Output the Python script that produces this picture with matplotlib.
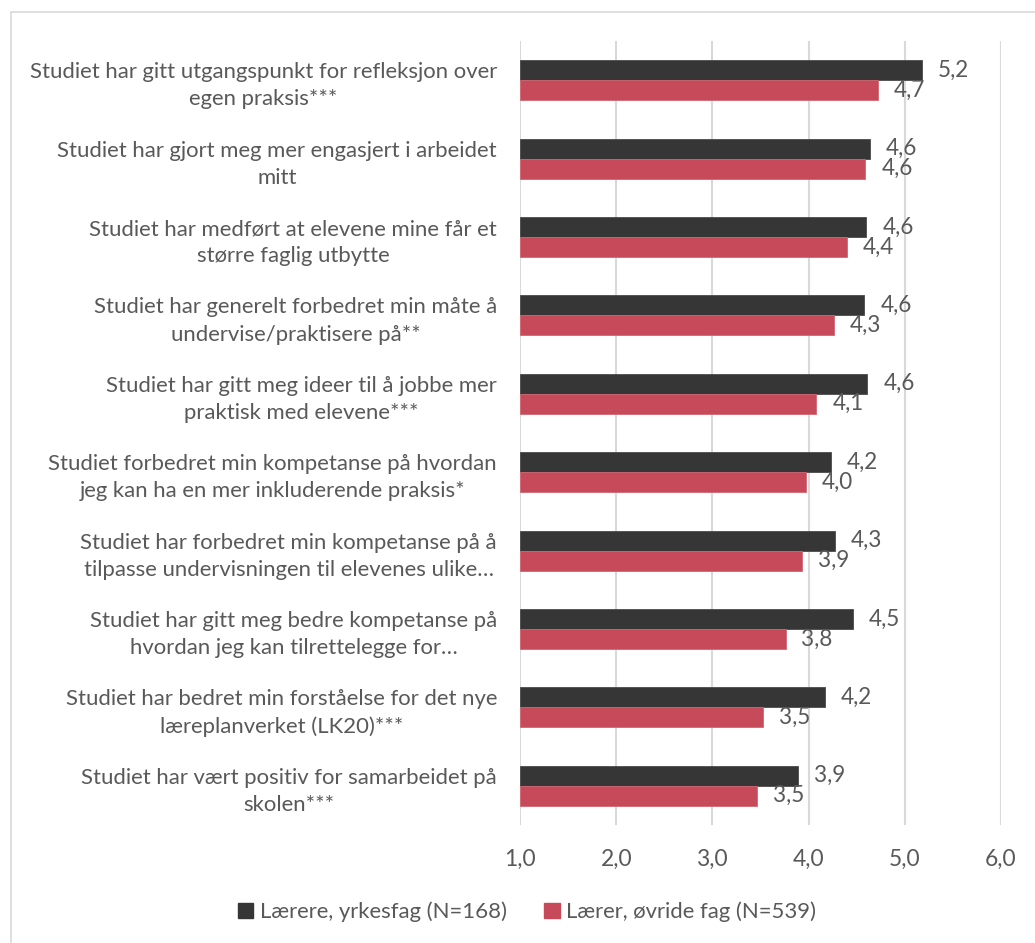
import matplotlib
matplotlib.use("Agg")
import matplotlib.pyplot as plt
from matplotlib.patches import Rectangle
import numpy as np

categories = [
    "Studiet har gitt utgangspunkt for refleksjon over\negen praksis***",
    "Studiet har gjort meg mer engasjert i arbeidet\nmitt",
    "Studiet har medført at elevene mine får et\nstørre faglig utbytte",
    "Studiet har generelt forbedret min måte å\nundervise/praktisere på**",
    "Studiet har gitt meg ideer til å jobbe mer\npraktisk med elevene***",
    "Studiet forbedret min kompetanse på hvordan\njeg kan ha en mer inkluderende praksis*",
    "Studiet har forbedret min kompetanse på å\ntilpasse undervisningen til elevenes ulike…",
    "Studiet har gitt meg bedre kompetanse på\nhvordan jeg kan tilrettelegge for…",
    "Studiet har bedret min forståelse for det nye\nlæreplanverket (LK20)***",
    "Studiet har vært positiv for samarbeidet på\nskolen***",
]
yrkesfag = [5.18, 4.64, 4.60, 4.58, 4.61, 4.23, 4.27, 4.46, 4.17, 3.89]
ovrige = [4.72, 4.59, 4.40, 4.26, 4.08, 3.97, 3.93, 3.76, 3.53, 3.46]
series_names = ["Lærere, yrkesfag (N=168)", "Lærer, øvride fag (N=539)"]
xticks = [1, 2, 3, 4, 5, 6]
xticklabels = ["1,0", "2,0", "3,0", "4,0", "5,0", "6,0"]

DARK = "#363636"
RED = "#C64A59"
TXT = "#595959"
GRID = "#D9D9D9"

W, H, DPI = 1035, 943, 100
plt.rcParams["font.family"] = ["Lato", "DejaVu Sans"]

fig = plt.figure(figsize=(W / DPI, H / DPI), dpi=DPI)

# auto-fit font size so first label line matches reference width (~469 px)
fs = 15.0
t = fig.text(0, 0, categories[0].split("\n")[0], fontsize=fs)
fig.canvas.draw()
wpx = t.get_window_extent().width
fs = fs * 469.0 / wpx
t.remove()

ax = fig.add_axes([520 / W, 1 - 825 / H, (1001 - 520) / W, (825 - 41) / H])

n = len(categories)
y = np.arange(n)
h = 0.255
xmin, xmax = xticks[0], xticks[-1]

ax.barh(y - h / 2, np.array(yrkesfag) - xmin, left=xmin, height=h, color=DARK,
        edgecolor="#4a4a4a", linewidth=0.6, label=series_names[0], zorder=3)
ax.barh(y + h / 2, np.array(ovrige) - xmin, left=xmin, height=h, color=RED,
        edgecolor="#cf6672", linewidth=0.6, label=series_names[1], zorder=3)

for i in range(n):
    for v, yc in ((yrkesfag[i], y[i] - h / 2), (ovrige[i], y[i] + h / 2)):
        ax.annotate(f"{v:.1f}".replace(".", ","), xy=(v, yc), xytext=(11.5, 0),
                    textcoords="offset points", ha="left", va="center",
                    fontsize=fs * 1.02, color=TXT)

ax.set_xlim(xmin, 6.0)
ax.set_ylim(n - 0.5, -0.5)
ax.set_xticks(xticks)
ax.set_xticklabels(xticklabels)
ax.set_yticks(y)
ax.set_yticklabels(categories)
for lab in ax.get_yticklabels():
    lab.set_multialignment("center")
    lab.set_linespacing(1.45)
ax.tick_params(axis="both", length=0, labelsize=fs, labelcolor=TXT)
ax.tick_params(axis="x", pad=17, labelsize=fs * 1.03)
ax.tick_params(axis="y", pad=16.5)
ax.set_axisbelow(True)
ax.xaxis.grid(True, color=GRID, linewidth=1.5, zorder=0)
ax.yaxis.grid(False)
for s in ax.spines.values():
    s.set_visible(False)

handles = [Rectangle((0, 0), 1, 1, color=DARK), Rectangle((0, 0), 1, 1, color=RED)]
leg = fig.legend(handles, series_names, loc="center", ncol=2,
                 bbox_to_anchor=(527 / W, 1 - 912 / H), frameon=False,
                 fontsize=fs, handlelength=0.7, handleheight=0.7,
                 handletextpad=0.3, columnspacing=1.7)
for tx in leg.get_texts():
    tx.set_color(TXT)

# outer chart border
fig.patches.append(Rectangle((11 / W, -0.1), 1.2, 1.1 - 12 / H,
                             transform=fig.transFigure, fill=False,
                             edgecolor=GRID, linewidth=1.2))

fig.savefig("out.png", dpi=DPI)
